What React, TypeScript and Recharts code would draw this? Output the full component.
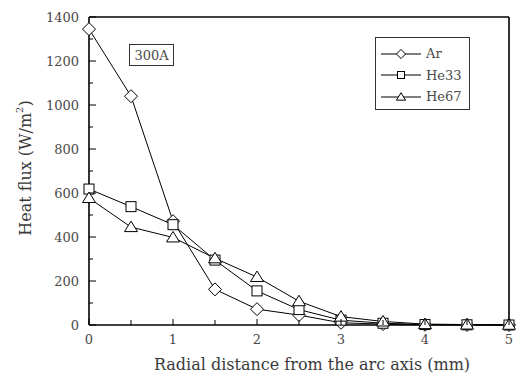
import React from "react";
import { LineChart, Line, XAxis, YAxis, Legend, Label, ReferenceLine } from "recharts";

const xs = [0, 0.5, 1, 1.5, 2, 2.5, 3, 3.5, 4, 4.5, 5];
const ar = [1345, 1040, 472, 162, 72, 45, 10, 4, 1, 0, 0];
const he33 = [618, 538, 456, 295, 155, 70, 22, 8, 2, 1, 0];
const he67 = [577, 445, 398, 303, 218, 108, 38, 16, 4, 2, 1];
const xTicks = [0, 0.5, 1, 1.5, 2, 2.5, 3, 3.5, 4, 4.5, 5];
const yTicks = [0, 100, 200, 300, 400, 500, 600, 700, 800, 900, 1000, 1100, 1200, 1300, 1400];
const xMax = 5;
const yMax = 1400;
const seriesNames = { ar: "Ar", he33: "He33", he67: "He67" };
const annotation = "300A";

const data = xs.map((x, i) => ({ x, ar: ar[i], he33: he33[i], he67: he67[i] }));

const FONT = "'DejaVu Serif', serif";
const TXT = "#4a4a4a";

function Marker({ kind, cx, cy, s = 1 }: { kind: string; cx: number; cy: number; s?: number }) {
  if (kind === "ar") {
    const h = 6.5 * s;
    return <polygon points={`${cx},${cy - h} ${cx + h},${cy} ${cx},${cy + h} ${cx - h},${cy}`} fill="#fff" stroke="#000" strokeWidth={1} />;
  }
  if (kind === "he33") {
    const h = 5 * s;
    return <rect x={cx - h} y={cy - h} width={2 * h} height={2 * h} fill="#fff" stroke="#000" strokeWidth={1} />;
  }
  const w = 6.5 * s;
  return <polygon points={`${cx},${cy - 6 * s} ${cx + w},${cy + 4.5 * s} ${cx - w},${cy + 4.5 * s}`} fill="#fff" stroke="#000" strokeWidth={1} />;
}

const makeDot = (kind: string) => (p: any) => (
  <g key={`${kind}-${p.index}`}>
    <Marker kind={kind} cx={p.cx} cy={p.cy} />
  </g>
);

const BottomTick = (p: any) => {
  const { x, y, payload } = p;
  const v = payload.value;
  const major = Number.isInteger(v);
  return (
    <g>
      <line x1={x} x2={x} y1={y} y2={y - (major ? 6 : 5)} stroke="#000" />
      {major && (
        <text x={x} y={y + 14} textAnchor="middle" dominantBaseline="central" fontFamily={FONT} fontSize={13} fill={TXT}>
          {v}
        </text>
      )}
    </g>
  );
};

const TopTick = (p: any) => {
  const { x, y, payload } = p;
  const major = Number.isInteger(payload.value);
  return <line x1={x} x2={x} y1={y} y2={y + (major ? 6 : 5)} stroke="#000" />;
};

const LeftTick = (p: any) => {
  const { x, y, payload } = p;
  const v = payload.value;
  const major = v % 200 === 0;
  return (
    <g>
      <line x1={x} x2={x + (major ? 7 : 4)} y1={y} y2={y} stroke="#000" />
      {major && (
        <text x={x - 10} y={y} textAnchor="end" dominantBaseline="central" fontFamily={FONT} fontSize={13} fill={TXT}>
          {v}
        </text>
      )}
    </g>
  );
};

const RightTick = (p: any) => {
  const { x, y, payload } = p;
  const major = payload.value % 200 === 0;
  return <line x1={x} x2={x - (major ? 7 : 4)} y1={y} y2={y} stroke="#000" />;
};

const renderLegend = (props: any) => {
  const payload = props.payload || [];
  return (
    <div style={{ border: "1px solid #333", background: "#fff", width: 95, height: 73, boxSizing: "border-box", paddingTop: 5 }}>
      {payload.map((e: any) => (
        <div key={e.dataKey} style={{ display: "flex", alignItems: "center", height: 21.5 }}>
          <svg width={50} height={20} style={{ flex: "none" }}>
            <line x1={5} x2={45} y1={10} y2={10} stroke="#000" />
            <Marker kind={e.dataKey} cx={25} cy={10} s={0.7} />
          </svg>
          <span style={{ fontFamily: FONT, fontSize: 13, color: TXT }}>{e.value}</span>
        </div>
      ))}
    </div>
  );
};

const YLabel = () => (
  <text x={25} y={168} transform="rotate(-90 25 168)" textAnchor="middle" dominantBaseline="central" fontFamily={FONT} fontSize={16} fill="#3a3a3a">
    Heat flux (W/m<tspan dy={-6} fontSize={10}>2</tspan><tspan dy={6}>)</tspan>
  </text>
);

const XLabel = () => (
  <text x={312} y={364} textAnchor="middle" dominantBaseline="central" fontFamily={FONT} fontSize={16} fill="#3a3a3a">
    Radial distance from the arc axis (mm)
  </text>
);

const axisLine = { stroke: "#000", strokeWidth: 1.6 };

export default function App() {
  return (
    <div style={{ position: "absolute", left: 0, top: 0, width: 519, height: 376, background: "#fff" }}>
      <LineChart width={519} height={376} data={data} margin={{ top: 17, right: 10, bottom: 0, left: 0 }}>
        <XAxis
          dataKey="x"
          type="number"
          domain={[0, xMax]}
          ticks={xTicks}
          interval={0}
          tickSize={0}
          tickMargin={0}
          tick={<BottomTick />}
          height={51}
          axisLine={axisLine}
        >
          <Label content={<XLabel />} />
        </XAxis>
        <XAxis
          xAxisId="top"
          orientation="top"
          dataKey="x"
          type="number"
          domain={[0, xMax]}
          ticks={xTicks}
          interval={0}
          tickSize={0}
          tickMargin={0}
          tick={<TopTick />}
          height={0}
          axisLine={axisLine}
        />
        <YAxis
          type="number"
          domain={[0, yMax]}
          ticks={yTicks}
          interval={0}
          tickSize={0}
          tickMargin={0}
          tick={<LeftTick />}
          width={89}
          axisLine={axisLine}
        >
          <Label content={<YLabel />} />
        </YAxis>
        <YAxis
          yAxisId="right"
          orientation="right"
          type="number"
          domain={[0, yMax]}
          ticks={yTicks}
          interval={0}
          tickSize={0}
          tickMargin={0}
          tick={<RightTick />}
          width={0}
          axisLine={axisLine}
        />
        <ReferenceLine y={yMax} stroke="#000" strokeWidth={1.6} />
        <ReferenceLine x={xMax} stroke="#000" strokeWidth={1.6} />
        <Legend
          layout="horizontal"
          verticalAlign="middle"
          align="center"
          content={renderLegend}
          wrapperStyle={{ left: 375, top: 37, width: 95, height: 73 }}
        />
        <Line dataKey="ar" name={seriesNames.ar} stroke="#000" strokeWidth={1} dot={makeDot("ar")} isAnimationActive={false} />
        <Line dataKey="he33" name={seriesNames.he33} stroke="#000" strokeWidth={1} dot={makeDot("he33")} isAnimationActive={false} />
        <Line dataKey="he67" name={seriesNames.he67} stroke="#000" strokeWidth={1} dot={makeDot("he67")} isAnimationActive={false} />
      </LineChart>
      <div
        style={{
          position: "absolute",
          left: 129,
          top: 44,
          width: 45,
          height: 22,
          boxSizing: "border-box",
          border: "1px solid #333",
          fontFamily: FONT,
          fontSize: 13,
          color: TXT,
          display: "flex",
          alignItems: "center",
          justifyContent: "center",
        }}
      >
        {annotation}
      </div>
    </div>
  );
}
